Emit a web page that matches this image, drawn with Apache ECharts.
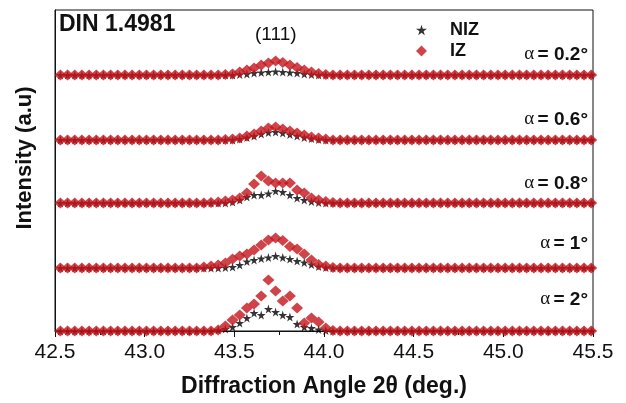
<!DOCTYPE html>
<html>
<head>
<meta charset="utf-8">
<script src="https://cdn.jsdelivr.net/npm/echarts@6/dist/echarts.min.js"></script>
<style>
  html, body { margin: 0; padding: 0; background: #fff; }
  #chart { width: 626px; height: 403px; }
</style>
</head>
<body>
<div id="chart"></div>
<script>
// 2theta sampling grid (deg.), step 0.04
const angles = [
  42.49, 42.53, 42.57, 42.61, 42.65, 42.69, 42.73, 42.77, 42.81, 42.85,
  42.89, 42.93, 42.97, 43.01, 43.05, 43.09, 43.13, 43.17, 43.21, 43.25,
  43.29, 43.33, 43.37, 43.41, 43.45, 43.49, 43.53, 43.57, 43.61, 43.65,
  43.69, 43.73, 43.77, 43.81, 43.85, 43.89, 43.93, 43.97, 44.01, 44.05,
  44.09, 44.13, 44.17, 44.21, 44.25, 44.29, 44.33, 44.37, 44.41, 44.45,
  44.49, 44.53, 44.57, 44.61, 44.65, 44.69, 44.73, 44.77, 44.81, 44.85,
  44.89, 44.93, 44.97, 45.01, 45.05, 45.09, 45.13, 45.17, 45.21, 45.25,
  45.29, 45.33, 45.37, 45.41, 45.45, 45.49, 45.53
]

// incidence angles and vertical shift of each pattern (a.u.)
const alphas = ['0.2', '0.6', '0.8', '1', '2']
const shifts = [256, 191, 128, 63, 0]

// NIZ intensity (a.u.), one row per alpha
const niz = [
  [0,0,0,0,0,0,0,0,0,0, 0,0,0,0,0,0,0,0,0,0, 0,0,0,0,0,0,0.5,1,2,2.5, 3,3.5,3,2.5,2,1,0.5,0,0,0,
   0,0,0,0,0,0,0,0,0,0, 0,0,0,0,0,0,0,0,0,0, 0,0,0,0,0,0,0,0,0,0, 0,0,0,0,0,0,0],
  [0,0,0,0,0,0,0,0,0,0, 0,0,0,0,0,0,0,0,0,0, 0,0,0,0,0,0,1,2.5,4,6, 7.5,8,7,5.5,4,2.5,1.5,0.5,0,0,
   0,0,0,0,0,0,0,0,0,0, 0,0,0,0,0,0,0,0,0,0, 0,0,0,0,0,0,0,0,0,0, 0,0,0,0,0,0,0],
  [0,0,0,0,0,0,0,0,0,0, 0,0,0,0,0,0,0,0,0,0, 0,0,0,0,0,1,3,6,8,8, 9.5,12,11,8,5,3,1.5,0.5,0,0,
   0,0,0,0,0,0,0,0,0,0, 0,0,0,0,0,0,0,0,0,0, 0,0,0,0,0,0,0,0,0,0, 0,0,0,0,0,0,0],
  [0,0,0,0,0,0,0,0,0,0, 0,0,0,0,0,0,0,0,0,0, 0,0,0,0,0.5,1,3,6.5,8,9.5, 10.5,12,10.5,9,7,5.5,3.5,1.5,0.5,0,
   0,0,0,0,0,0,0,0,0,0, 0,0,0,0,0,0,0,0,0,0, 0,0,0,0,0,0,0,0,0,0, 0,0,0,0,0,0,0],
  [0,0,0,0,0,0,0,0,0,0, 0,0,0,0,0,0,0,0,0,0, 0,0,0,1,2,4,8,13,18,16, 22,19,16,14,7,4,3,1.5,0.5,0,
   0,0,0,0,0,0,0,0,0,0, 0,0,0,0,0,0,0,0,0,0, 0,0,0,0,0,0,0,0,0,0, 0,0,0,0,0,0,0]
]

// IZ intensity (a.u.), one row per alpha
const iz = [
  [0,0,0,0,0,0,0,0,0,0, 0,0,0,0,0,0,0,0,0,0, 0,0,0,0,0.5,1,3,5,7,10, 12,14,12.5,10,7.5,5,3,1.5,0.5,0,
   0,0,0,0,0,0,0,0,0,0, 0,0,0,0,0,0,0,0,0,0, 0,0,0,0,0,0,0,0,0,0, 0,0,0,0,0,0,0],
  [0,0,0,0,0,0,0,0,0,0, 0,0,0,0,0,0,0,0,0,0, 0,0,0,0,0.5,1,2,4,6,9, 12,13,11,9,7,5,3,2,1,0,
   0,0,0,0,0,0,0,0,0,0, 0,0,0,0,0,0,0,0,0,0, 0,0,0,0,0,0,0,0,0,0, 0,0,0,0,0,0,0],
  [0,0,0,0,0,0,0,0,0,0, 0,0,0,0,0,0,0,0,0,0, 0,0,0.5,1,2,3,5,10,19,27, 22,20,20,20,13,10,5,3,1.5,0.5,
   0,0,0,0,0,0,0,0,0,0, 0,0,0,0,0,0,0,0,0,0, 0,0,0,0,0,0,0,0,0,0, 0,0,0,0,0,0,0],
  [0,0,0,0,0,0,0,0,0,0, 0,0,0,0,0,0,0,0,0,0, 0,1,2,3,5,9,12,14,18,23, 28,30,27.5,21.5,19,14,8,3.5,2,0.5,
   0,0,0,0,0,0,0,0,0,0, 0,0,0,0,0,0,0,0,0,0, 0,0,0,0,0,0,0,0,0,0, 0,0,0,0,0,0,0],
  [0,0,0,0,0,0,0,0,0,0, 0,0,0,0,0,0,0,0,0,0, 0,0,0,1,5,11,16,23,27,35, 51,40,30,35,23,8,13,9,3,0.5,
   0,0,0,0,0,0,0,0,0,0, 0,0,0,0,0,0,0,0,0,0, 0,0,0,0,0,0,0,0,0,0, 0,0,0,0,0,0,0]
]

const xTicks = { min: 42.5, max: 45.5, step: 0.5 }

const starPath = 'path://M50,0 L61,35 L98,35 L68,57 L79,91 L50,70 L21,91 L32,57 L2,35 L39,35 Z'
const red = '#c4141b'
const font = '"Liberation Sans", Arial, sans-serif'

const chart = echarts.init(document.getElementById('chart'))

// 把每条谱线平移后转成散点
const toPoints = (row, shift) => row.map((v, i) => [angles[i], shift + v])

const series = []
alphas.forEach((a, k) => {
  series.push({
    name: 'NIZ',
    type: 'scatter',
    symbol: starPath,
    symbolSize: 9,
    itemStyle: { color: '#000' },
    z: 2,
    data: toPoints(niz[k], shifts[k])
  })
})
alphas.forEach((a, k) => {
  series.push({
    name: 'IZ',
    type: 'scatter',
    symbol: 'diamond',
    symbolSize: [12, 11],
    itemStyle: { color: red },
    z: 3,
    data: toPoints(iz[k], shifts[k])
  })
})

// α 标签
const alphaY = [56, 121, 185, 245, 301]
const alphaLabels = alphas.map((a, k) => ({
  type: 'text',
  right: 38,
  top: alphaY[k] - 11,
  style: {
    text: '{g|α} {t|= ' + a + '°}',
    rich: {
      g: { fontFamily: '"Liberation Serif", "DejaVu Serif", serif', fontSize: 19, fill: '#111' },
      t: { fontFamily: font, fontWeight: 'bold', fontSize: 19, fill: '#111' }
    }
  }
}))

const option = {
  animation: false,
  backgroundColor: '#fff',
  grid: {
    left: 55, right: 33, top: 10, bottom: 72,
    show: true, borderColor: '#111', borderWidth: 1
  },
  legend: {
    orient: 'vertical',
    left: 411,
    top: 16,
    itemWidth: 11,
    itemHeight: 11,
    itemGap: 3,
    textStyle: {
      fontFamily: font, fontWeight: 'bold', fontSize: 18, color: '#111',
      padding: [0, 0, 0, 18]
    },
    data: [
      { name: 'NIZ', icon: starPath, itemStyle: { color: '#000' } },
      { name: 'IZ', icon: 'diamond', itemStyle: { color: red } }
    ]
  },
  xAxis: {
    type: 'value',
    min: xTicks.min,
    max: xTicks.max,
    interval: xTicks.step,
    name: 'Diffraction Angle 2θ (deg.)',
    nameLocation: 'middle',
    nameGap: 44,
    nameTextStyle: { fontFamily: font, fontWeight: 'bold', fontSize: 23, color: '#111' },
    axisLine: { lineStyle: { color: '#111', width: 1 } },
    axisTick: { length: 6, lineStyle: { color: '#111' } },
    minorTick: { show: true, splitNumber: 2, length: 4, lineStyle: { color: '#111' } },
    axisLabel: {
      fontFamily: font, fontSize: 21, color: '#111', margin: 11,
      formatter: v => v.toFixed(1)
    },
    splitLine: { show: false }
  },
  yAxis: {
    type: 'value',
    min: 0,
    max: 321,
    axisLine: { show: true, lineStyle: { color: '#111', width: 1 } },
    axisTick: { show: false },
    axisLabel: { show: false },
    splitLine: { show: false }
  },
  graphic: [
    {
      type: 'text', x: 25, y: 158, rotation: Math.PI / 2,
      style: {
        text: 'Intensity (a.u)', fontFamily: font, fontWeight: 'bold', fontSize: 22, fill: '#111',
        textAlign: 'center', textVerticalAlign: 'middle'
      }
    },
    {
      type: 'text', left: 59, top: 13,
      style: { text: 'DIN 1.4981', fontFamily: font, fontWeight: 'bold', fontSize: 23, fill: '#111' }
    },
    {
      type: 'text', left: 255, top: 25,
      style: { text: '(111)', fontFamily: font, fontSize: 19, fill: '#111' }
    },
    ...alphaLabels
  ],
  series: series
}

chart.setOption(option)
</script>
</body>
</html>
